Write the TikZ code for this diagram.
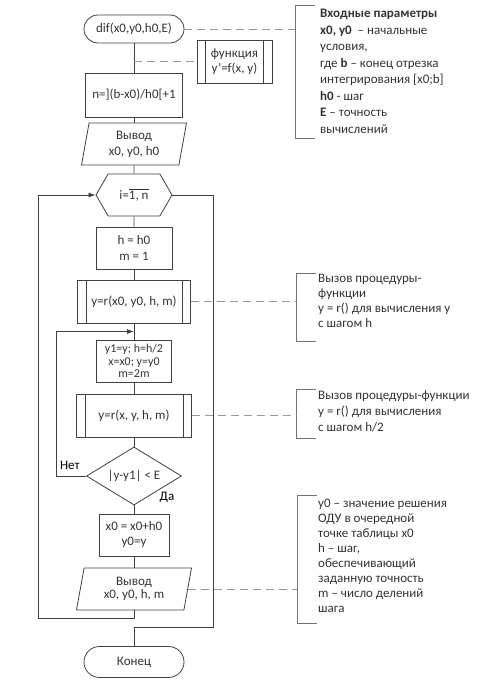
\documentclass[tikz,border=0pt]{standalone}
\usepackage{fontspec}
\setmainfont{Carlito}
\usetikzlibrary{positioning, arrows.meta, calc, shapes.geometric, shapes.symbols}

\tikzset{
  base/.style={draw=black!75, line width=0.8pt, text=black!80, align=center, inner sep=0pt},
  term/.style={base, rounded corners=14pt, minimum width=100pt, minimum height=28pt},
  proc/.style={base, rectangle, minimum width=76pt, minimum height=42pt},
  pred/.style={proc, minimum height=43pt},
  io/.style={base, trapezium, trapezium left angle=74, trapezium right angle=106, trapezium stretches body, minimum height=42pt},
  cyc/.style={base, signal, signal to=west and east, signal pointer angle=120, minimum width=76pt, minimum height=42pt},
  cond/.style={base, diamond, aspect=1.64, minimum width=95pt, minimum height=58pt},
  note/.style={anchor=north west, align=left, inner sep=0pt, text=black!80, font=\fontsize{13pt}{15pt}\selectfont},
  brk/.style={draw=black!55, line width=0.8pt},
  link/.style={draw=black!40, line width=0.8pt, dash pattern=on 8pt off 5pt},
  line/.style={draw=black!75, line width=0.8pt}
}

\begin{document}
\begin{tikzpicture}[x=1pt, y=-1pt, >={Latex[length=7pt,width=5pt]}, font=\fontsize{13pt}{15pt}\selectfont]
\useasboundingbox (0,0) rectangle (495,685);

\node[term] (start) at (134,29) {dif(x0,y0,h0,E)};
\node[pred, minimum width=75pt] (func) at (234.5,61.5) {функция\\y'=f(x, y)};
\node[proc, minimum width=97pt, minimum height=44pt] (calc) at (134,95) {n=](b-x0)/h0[+1};
\node[io, minimum width=105pt] (in) at (134,144) {Вывод\\[1pt]x0, y0, h0};
\node[cyc] (loop) at (134,195) {i=$\overline{\mbox{1, n}}$};
\node[proc] (init) at (134,248) {h = h0\\[1pt]m = 1};
\node[pred, minimum width=113pt] (call1) at (134,301.5) {y=r(x0, y0, h, m)};
\node[proc, minimum width=75pt, font=\fontsize{12pt}{12.5pt}\selectfont] (half) at (134,361) {y1=y; h=h/2\\x=x0; y=y0\\m=2m};
\node[pred, minimum width=115pt] (call2) at (134,415.5) {y=r(x, y, h, m)};
\node[cond] (test) at (134,476) {|y-y1| < E};
\node[proc, minimum width=70pt] (next) at (134,535) {x0 = x0+h0\\y0=y};
\node[io, minimum width=115pt, trapezium left angle=72, trapezium right angle=108, font=\fontsize{13pt}{13pt}\selectfont] (out) at (134,589) {Вывод\\x0, y0, h, m};
\node[term, minimum height=31pt, rounded corners=15.5pt] (stop) at (134,662) {Конец};

\node[above left=3pt and 3pt of test.west] (no) {Нет};
\node (yes) at (167,497) {Да};

\foreach \n in {func,call1,call2}{
  \draw[line] ([xshift=9pt]\n.north west) -- ([xshift=9pt]\n.south west);
  \draw[line] ([xshift=-9pt]\n.north east) -- ([xshift=-9pt]\n.south east);
}

\coordinate (j) at ($(call1.south)!0.5!(half.north)$);
\draw[line] (start) -- (calc);
\draw[line] (calc) -- (in);
\draw[line] (in) -- (loop);
\draw[line] (loop) -- (init);
\draw[line] (init) -- (call1);
\draw[line] (call1) -- (half);
\draw[line] (half) -- (call2);
\draw[line] (call2) -- (test);
\draw[line] (test) -- (next);
\draw[line] (next) -- (out);
\draw[line,->] (test.west) -- ++(-30,0) |- (j);
\draw[line,->] (out.south) -- ++(0,8) -| ([xshift=-57pt]loop.west) -- (loop.west);
\draw[line] (loop.east) -- ++(41,0) |- ([yshift=19pt]stop.north) -- (stop);

\foreach \x/\t/\b [count=\i] in {295/5/138, 296/273/341, 296/389/438, 297/495/623}
  \draw[brk] (\x+20,\t) -- (\x,\t) coordinate (b\i) -- (\x,\b) -- (\x+20,\b);

\draw[link] (start.east) -- (start.east -| b1);
\draw[link] (start |- func.west) -- (func.west);
\draw[link] (call1.east) -- (call1.east -| b2);
\draw[link] (call2.east) -- (call2.east -| b3);
\draw[link] (out.east) -- (out.east -| b4);

\node[note, font=\fontsize{13pt}{16.5pt}\selectfont] (n1) at (320,9) {\textbf{Входные параметры}\\\textbf{x0, y0}\ \ – начальные\\условия,\\где \textbf{b} – конец отрезка\\интегрирования [x0;b]\\\textbf{h0} - шаг\\\textbf{E} – точность\\вычислений};
\node[note] (n2) at (318,274) {Вызов процедуры-\\функции\\y = r() для вычисления y\\с шагом h};
\node[note, font=\fontsize{13pt}{16pt}\selectfont] (n3) at (318,391) {Вызов процедуры-функции\\y = r() для вычисления\\с шагом h/2};
\node[note] (n4) at (318,499) {y0 – значение решения\\ОДУ в очередной\\точке таблицы x0\\h – шаг,\\обеспечивающий\\заданную точность\\m – число делений\\шага};
\end{tikzpicture}
\end{document}
